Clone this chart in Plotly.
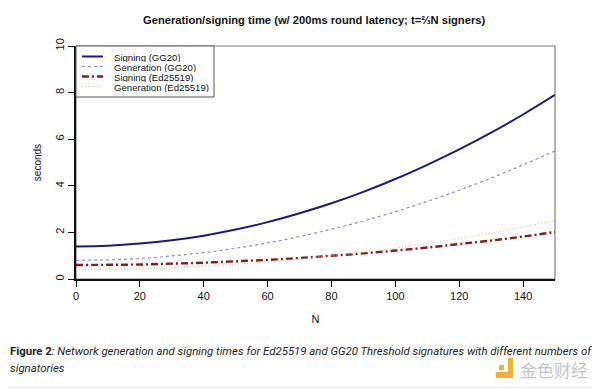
import plotly.graph_objects as go

# ---- data ----
N = [0, 10, 20, 30, 40, 50, 60, 70, 80, 90, 100, 110, 120, 130, 140, 150]
signing_gg20 = [1.40, 1.43, 1.52, 1.66, 1.86, 2.12, 2.44, 2.82, 3.25, 3.74, 4.29, 4.90, 5.56, 6.28, 7.06, 7.90]
generation_gg20 = [0.80, 0.82, 0.88, 0.99, 1.13, 1.32, 1.55, 1.82, 2.14, 2.49, 2.89, 3.33, 3.81, 4.33, 4.90, 5.50]
signing_ed25519 = [0.60, 0.61, 0.62, 0.66, 0.70, 0.76, 0.82, 0.90, 1.00, 1.10, 1.22, 1.35, 1.50, 1.65, 1.82, 2.02]
generation_ed25519 = [0.40, 0.41, 0.44, 0.48, 0.55, 0.63, 0.74, 0.86, 1.00, 1.15, 1.33, 1.53, 1.74, 1.97, 2.23, 2.52]
series_names = ["Signing (GG20)", "Generation (GG20)", "Signing (Ed25519)", "Generation (Ed25519)"]
x_ticks = [0, 20, 40, 60, 80, 100, 120, 140]
y_ticks = [0, 2, 4, 6, 8, 10]

series = [signing_gg20, generation_gg20, signing_ed25519, generation_ed25519]
colors = ["#1c1c78", "#8c8cbc", "#8b1a1a", "#e6c88a"]
dashes = ["solid", "3px,3px", "7px,3px,2px,3px", "1px,2px"]
widths = [2.0, 1.2, 2.4, 1.2]

FONT = "Liberation Sans, Arial, sans-serif"
OFF = 8  # page body margin offset
SL, ST, SR, SB = 76, 46, 555, 279  # plot area in screen pixels
L, T = SL - OFF, ST - OFF
PW, PH = SR - SL, SB - ST
R = 600 - L - PW
B = 390 - T - PH


def px(x):
    return (x - SL) / PW


def py(y):
    return (SB - y) / PH


fig = go.Figure()
for name, ys, c, d, w in zip(series_names, series, colors, dashes, widths):
    fig.add_trace(go.Scatter(x=N, y=ys, mode="lines", name=name,
                             line=dict(color=c, dash=d, width=w, shape="spline", smoothing=1.0),
                             showlegend=False))

# plot box (gray)
fig.add_shape(type="rect", xref="paper", yref="paper", x0=0, x1=1, y0=0, y1=1,
              line=dict(color="#808080", width=1.2), layer="below")

# manual R-style legend
fig.add_shape(type="rect", xref="paper", yref="paper", x0=0, x1=px(214), y0=py(97), y1=1,
              line=dict(color="#555555", width=1), fillcolor="white", layer="above")
row_px = [56.5, 66.5, 76.5, 86.5]
for i, name in enumerate(series_names):
    fig.add_shape(type="line", xref="paper", yref="paper", x0=px(82), x1=px(103),
                  y0=py(row_px[i]), y1=py(row_px[i]),
                  line=dict(color=colors[i], dash=dashes[i], width=widths[i]), layer="above")
    fig.add_annotation(xref="paper", yref="paper", x=px(112), y=py(row_px[i]), text=name,
                       showarrow=False, xanchor="left", yanchor="middle", height=10,
                       font=dict(family=FONT, size=9.6, color="#111111"))

# title
fig.add_annotation(xref="paper", yref="paper", x=px(314), y=py(20),
                   text="<b>Generation/signing time (w/ 200ms round latency; t=⅔N signers)</b>",
                   showarrow=False, xanchor="center", yanchor="middle",
                   font=dict(family=FONT, size=11.2, color="#111111"))

# caption
cap_font = "Roboto, Arial, sans-serif"
fig.add_annotation(xref="paper", yref="paper", x=px(8), y=py(351),
                   text="<b>Figure 2</b><i>: Network generation and signing times for Ed25519 and GG20 Threshold signatures with different numbers of</i>",
                   showarrow=False, xanchor="left", yanchor="middle",
                   font=dict(family=cap_font, size=11.4, color="#222222"))
fig.add_annotation(xref="paper", yref="paper", x=px(8), y=py(368),
                   text="<i>signatories</i>",
                   showarrow=False, xanchor="left", yanchor="middle",
                   font=dict(family=cap_font, size=11.4, color="#222222"))

# watermark
orange = "#f0b030"
fig.add_shape(type="rect", xref="paper", yref="paper", x0=px(496), x1=px(508), y0=py(378), y1=py(372),
              line=dict(width=0), fillcolor=orange)
fig.add_shape(type="rect", xref="paper", yref="paper", x0=px(508), x1=px(513), y0=py(378), y1=py(358),
              line=dict(width=0), fillcolor=orange)
fig.add_shape(type="rect", xref="paper", yref="paper", x0=px(499), x1=px(504), y0=py(370), y1=py(365),
              line=dict(width=0), fillcolor=orange)
fig.add_annotation(xref="paper", yref="paper", x=px(518), y=py(369),
                   text="金色财经", showarrow=False, xanchor="left", yanchor="middle",
                   font=dict(family="Noto Sans CJK SC", size=17, color="#c4c4c4"))
fig.add_shape(type="line", xref="paper", yref="paper", x0=px(0), x1=px(600),
              y0=py(387), y1=py(387), line=dict(color="#e6e6e6", width=1))

fig.update_layout(
    width=600, height=390,
    margin=dict(l=L, r=R, t=T, b=B, autoexpand=False),
    paper_bgcolor="white", plot_bgcolor="white",
    font=dict(family=FONT, size=11, color="#111111"),
    xaxis=dict(range=[0, 150], tickvals=x_ticks, ticks="outside", ticklen=6, tickcolor="#111111",
               showline=True, linecolor="#111111", linewidth=1.5, showgrid=False, zeroline=False,
               automargin=False,
               title=dict(text="N", font=dict(size=11), standoff=14),
               tickfont=dict(size=11)),
    yaxis=dict(range=[0, 10], tickvals=y_ticks, ticks="outside", ticklen=6, tickcolor="#111111",
               showline=True, linecolor="#111111", linewidth=1.5, showgrid=False, zeroline=False,
               automargin=False,
               tickangle=-90, tickfont=dict(size=11),
               title=dict(text="seconds", font=dict(size=10), standoff=10)),
)

fig.write_html("out.html")
